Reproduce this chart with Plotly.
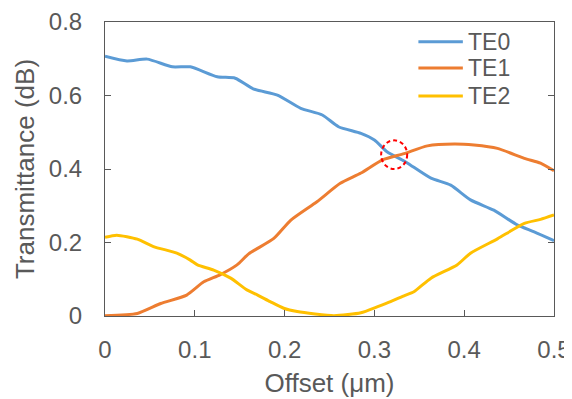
import plotly.graph_objects as go

te0_x = [0.0, 0.0245, 0.047, 0.075, 0.095, 0.125, 0.145, 0.165, 0.192, 0.218, 0.242, 0.260, 0.285,
         0.300, 0.314, 0.333, 0.340, 0.363, 0.385, 0.407, 0.433, 0.459, 0.478, 0.500]
te0_y = [0.707, 0.694, 0.699, 0.678, 0.678, 0.651, 0.647, 0.618, 0.601, 0.565, 0.547, 0.515, 0.497,
         0.479, 0.447, 0.422, 0.411, 0.375, 0.356, 0.316, 0.288, 0.248, 0.229, 0.205]

te1_x = [0.0, 0.036, 0.062, 0.091, 0.110, 0.128, 0.147, 0.160, 0.188, 0.207, 0.236, 0.262, 0.285,
         0.309, 0.333, 0.359, 0.389, 0.411, 0.437, 0.467, 0.485, 0.500]
te1_y = [0.001, 0.007, 0.034, 0.057, 0.093, 0.112, 0.139, 0.169, 0.211, 0.261, 0.311, 0.361, 0.389,
         0.425, 0.442, 0.463, 0.468, 0.465, 0.456, 0.429, 0.416, 0.395]

te2_x = [0.0, 0.013, 0.036, 0.054, 0.080, 0.095, 0.103, 0.121, 0.140, 0.158, 0.170, 0.184, 0.199,
         0.214, 0.255, 0.285, 0.303, 0.318, 0.333, 0.344, 0.363, 0.392, 0.407, 0.437, 0.467, 0.485, 0.500]
te2_y = [0.214, 0.220, 0.209, 0.189, 0.171, 0.152, 0.139, 0.125, 0.103, 0.071, 0.057, 0.039, 0.021,
         0.012, 0.001, 0.009, 0.025, 0.039, 0.055, 0.066, 0.103, 0.139, 0.171, 0.210, 0.252, 0.263, 0.275]

series_names = ["TE0", "TE1", "TE2"]
series_colors = ["#5B9BD5", "#ED7D31", "#FFC000"]

x_ticks = [0, 0.1, 0.2, 0.3, 0.4, 0.5]
x_tick_labels = ["0", "0.1", "0.2", "0.3", "0.4", "0.5"]
y_ticks = [0, 0.2, 0.4, 0.6, 0.8]
y_tick_labels = ["0", "0.2", "0.4", "0.6", "0.8"]

FONT = "Liberation Sans, Arial, sans-serif"
GREY = "#595959"
TICK_FS = 24
TITLE_FS = 26
LEG_FS = 23

fig = go.Figure()
for name, xs, ys, col in zip(series_names, [te0_x, te1_x, te2_x], [te0_y, te1_y, te2_y], series_colors):
    fig.add_trace(go.Scatter(x=xs, y=ys, name=name, mode="lines", showlegend=False,
                             line=dict(color=col, width=3, shape="spline", smoothing=0.6)))

# highlight circle at crossing
fig.add_shape(type="circle", xref="x", yref="y", x0=0.3075, x1=0.3365, y0=0.400, y1=0.478,
              line=dict(color="#FF0000", width=2, dash="4px,3px"))

# manual legend (compact spacing like the original)
leg_y = [0.933, 0.8435, 0.748]
for name, col, yy in zip(series_names, series_colors, leg_y):
    fig.add_shape(type="line", xref="paper", yref="paper", x0=0.698, x1=0.797, y0=yy, y1=yy,
                  line=dict(color=col, width=3))
    fig.add_annotation(xref="paper", yref="paper", x=0.805, y=yy, text=name, showarrow=False,
                       xanchor="left", yanchor="middle",
                       font=dict(family=FONT, size=LEG_FS, color=GREY))

fig.update_layout(
    width=564, height=391,
    margin=dict(l=97, r=18, t=14, b=83, autoexpand=False),
    paper_bgcolor="white", plot_bgcolor="white",
    font=dict(family=FONT, size=TICK_FS, color=GREY),
    showlegend=False,
    xaxis=dict(range=[0, 0.5], tickvals=x_ticks, ticktext=x_tick_labels, automargin=False,
               ticks="inside", ticklen=6, tickcolor=GREY, showgrid=False, zeroline=False,
               showline=True, linecolor=GREY, linewidth=1, mirror=True, ticklabelstandoff=12,
               tickfont=dict(size=TICK_FS, color=GREY),
               title=dict(text="Offset (μm)", font=dict(size=TITLE_FS, color=GREY), standoff=12)),
    yaxis=dict(range=[0, 0.8], tickvals=y_ticks, ticktext=y_tick_labels, automargin=False,
               ticks="inside", ticklen=6, tickcolor=GREY, showgrid=False, zeroline=False,
               showline=True, linecolor=GREY, linewidth=1, mirror="ticks", ticklabelstandoff=17,
               tickfont=dict(size=TICK_FS, color=GREY),
               title=dict(text="Transmittance (dB)", font=dict(size=TITLE_FS, color=GREY), standoff=6)),
)

fig.write_html("out.html")
